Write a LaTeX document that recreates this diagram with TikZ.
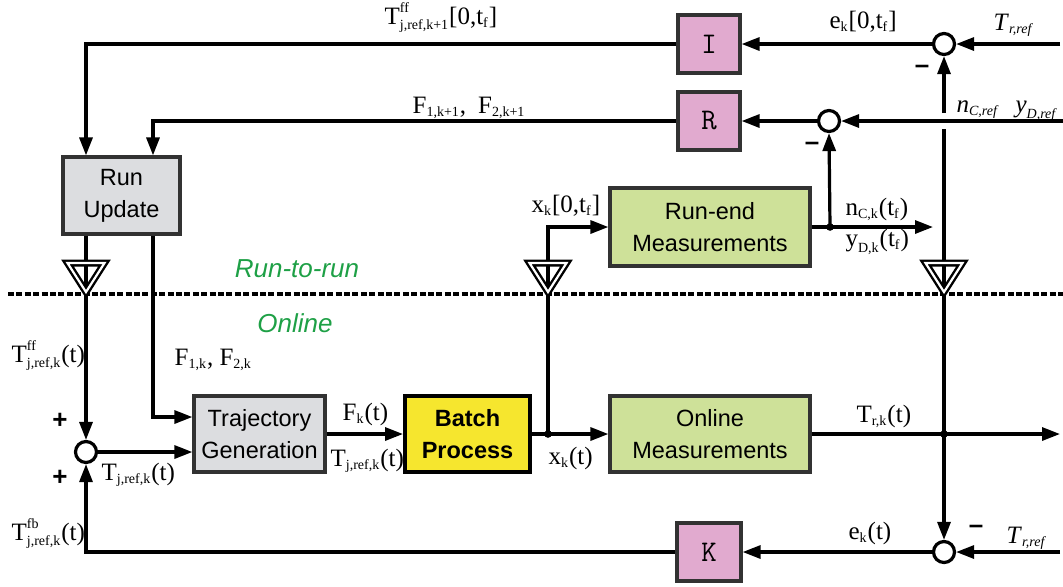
\documentclass[tikz,border=0pt]{standalone}
\usepackage{amsmath}
\usepackage{fontspec}
\setmainfont{Liberation Serif}
\setsansfont{Liberation Sans}
\usepackage{tikz}
\usetikzlibrary{positioning}
\usetikzlibrary{arrows.meta}
\DeclareMathSizes{12.5}{12.5}{7}{5}
\definecolor{ctrlpink}{RGB}{225,170,207}
\definecolor{boxgray}{RGB}{220,221,224}
\definecolor{measgreen}{RGB}{206,225,153}
\definecolor{procyellow}{RGB}{246,230,46}
\definecolor{phasegreen}{RGB}{30,160,70}
\definecolor{edgegray}{RGB}{50,50,50}
\newcommand{\sg}[2]{\ensuremath{\text{#1}_{\text{#2}}}}
\newcommand{\sgff}[3]{\ensuremath{\text{#1}^{\text{#3}}_{\text{#2}}}}

\begin{document}
\begin{tikzpicture}[x=0.5pt,y=-0.5pt,line width=1.6pt,
    arr/.style={-{Triangle[length=9pt,width=6.5pt]}},
    blk/.style={draw=edgegray,line width=1.6pt,align=center,inner sep=0pt,
        font=\sffamily\fontsize{11.75}{16}\selectfont},
    ctrl/.style={draw=edgegray,line width=1.6pt,fill=ctrlpink,minimum width=31pt,
        minimum height=29pt,font=\ttfamily\fontsize{15}{15}\selectfont},
    sum/.style={circle,draw,fill=white,line width=1.6pt,minimum size=10.5pt,inner sep=0pt},
    lbl/.style={font=\fontsize{12.5}{15}\selectfont,inner sep=0pt,anchor=base west},
    sgn/.style={font=\sffamily\bfseries\fontsize{13}{14}\selectfont,inner sep=0pt},
    phase/.style={font=\sffamily\itshape\fontsize{13}{15}\selectfont,text=phasegreen},
    dot/.style={circle,fill,inner sep=0pt,minimum size=3.8pt}]
                \useasboundingbox (0,0) rectangle (1063,586);
                % blocks
                \node[blk,fill=boxgray,minimum width=58.5pt,minimum height=38.5pt] (upd) at (121.5,195.5) {Run\\Update};
                \node[blk,fill=boxgray,minimum width=65.5pt,minimum height=38pt] (traj) at (259.5,434) {Trajectory\\Generation};
                \node[blk,fill=procyellow,draw=black,line width=2pt,minimum width=62.5pt,minimum height=38pt,
                    font=\sffamily\bfseries\fontsize{11.75}{16}\selectfont] (batch) at (467.5,434) {Batch\\Process};
                \node[blk,fill=measgreen,minimum width=100pt,minimum height=38pt] (onmeas) at (710,434) {Online\\Measurements};
                \node[blk,fill=measgreen,minimum width=100pt,minimum height=39pt] (endmeas) at (710,227) {Run-end\\Measurements};
                \node[ctrl] (ctrlI) at (709,44) {I};
                \node[ctrl] (ctrlR) at (709,121) {R};
                \node[ctrl,minimum width=32pt] (ctrlK) at (709,552) {K};
                \node[sum] (sumT) at (944,44) {};
                \node[sum] (sumN) at (829,121) {};
                \node[sum] (sumB) at (944,552) {};
                \node[sum] (sumff) at (86,452) {};
                % bends and junctions
                \coordinate (ffTop) at (86,44);
                \coordinate (fTop) at (153,121);
                \coordinate (fIn) at (153,417);
                \coordinate (trefT) at (1060,44);
                \coordinate (nref) at (1063,121);
                \coordinate (trefB) at (1060,552);
                \coordinate (gapHi) at (944,113);
                \coordinate (gapLo) at (944,129);
                \coordinate (jx) at (548,434);
                \coordinate (jT) at (944,434);
                \coordinate (jn) at (830,227);
                \coordinate (endOut) at (933,227);
                \coordinate (mainOut) at (1060,434);
                % separator
                \draw[line width=2.2pt,dash pattern=on 3pt off 1.2pt] (8,294) -- (1063,294);
                % connectors
                \draw[arr] (ctrlI.west) -- (ffTop) -- (upd.north -| ffTop);
                \draw[arr] (ctrlR.west) -- (fTop) -- (upd.north -| fTop);
                \draw[arr] (sumT.west) -- (ctrlI.east);
                \draw[arr] (trefT) -- (sumT.east);
                \draw[arr] (sumN.west) -- (ctrlR.east);
                \draw[arr] (nref) -- (sumN.east);
                \draw[arr] (gapHi) -- (sumT.south);
                \draw[arr] (gapLo) -- (sumB.north);
                \draw[arr] (endmeas.east) -- (endOut);
                \draw[arr] (jn) -- (sumN.south);
                \draw[arr] (jx) |- (endmeas.west);
                \draw[arr] (traj.east) -- (batch.west);
                \draw[arr] (batch.east) -- (onmeas.west);
                \draw[arr] (onmeas.east) -- (mainOut);
                \draw[arr] (upd.south -| ffTop) -- (sumff.north);
                \draw[arr] (upd.south -| fTop) -- (fIn) -- (fIn -| traj.west);
                \draw[arr] (sumff.east) -- (sumff.east -| traj.west);
                \draw[arr] (sumB.west) -- (ctrlK.east);
                \draw[arr] (ctrlK.west) -| (sumff.south);
                \draw[arr] (trefB) -- (sumB.east);
                \foreach \Point in {jx,jT,jn}
                    \node[dot] at (\Point) {};
                % sample-and-hold triangles
                \foreach \x in {86,548,944}
                    \draw[line width=1.2pt,double=white,double distance=1.1pt]
                        (\x-18.5,263) -- (\x+18.5,263) -- (\x,292) -- cycle;
                % signals
                \node[lbl] (lTffTop) at (383,24) {\sgff{T}{j,ref,k+1}{ff}[0,\sg{t}{f}]};
                \node[lbl] (lFTop) at (411,113) {\sg{F}{1,k+1},\hspace{6pt}\sg{F}{2,k+1}};
                \node[lbl] (lek) at (828,28) {\sg{e}{k}[0,\sg{t}{f}]};
                \node[lbl] (lTrefT) at (992,30) {\sg{\textit{T}}{\textit{r,ref}}};
                \node[lbl] (lnref) at (955,112) {\sg{\textit{n}}{\textit{C,ref}}\hspace{8pt}\sg{\textit{y}}{\textit{D,ref}}};
                \node[lbl] (lxk) at (530,212) {\sg{x}{k}[0,\sg{t}{f}]};
                \node[lbl] (lnk) at (844,215) {\sg{n}{C,k}(\sg{t}{f})};
                \node[lbl] (lyk) at (844,246) {\sg{y}{D,k}(\sg{t}{f})};
                \node[lbl] (lTffL) at (10,362) {\sgff{T}{j,ref,k}{ff}(t)};
                \node[lbl] (lF) at (173,365) {\sg{F}{1,k}, \sg{F}{2,k}};
                \node[lbl] (lTsum) at (100,480) {\sg{T}{j,ref,k}(t)};
                \node[lbl] (lTfb) at (10,540) {\sgff{T}{j,ref,k}{fb}(t)};
                \node[lbl] (lFk) at (341,420) {\sg{F}{k}(t)};
                \node[lbl] (lTtraj) at (329,466) {\sg{T}{j,ref,k}(t)};
                \node[lbl] (lxt) at (547,464) {\sg{x}{k}(t)};
                \node[lbl] (lTrk) at (855,422) {\sg{T}{r,k}(t)};
                \node[lbl] (lekt) at (847,539) {\sg{e}{k}(t)};
                \node[lbl] (lTrefB) at (1005,543) {\sg{\textit{T}}{\textit{r,ref}}};
                % signs
                \node[sgn] (pTop) at (60,421) {+};
                \node[sgn] (pBot) at (60,478) {+};
                \node[sgn] (mT) at (922,69) {--};
                \node[sgn] (mN) at (812,146) {--};
                \node[sgn] (mB) at (976,529) {--};
                % phases
                \node[phase] (r2r) at (297,269) {Run-to-run};
                \node[phase] (onl) at (295,323) {Online};
\end{tikzpicture}
\end{document}
